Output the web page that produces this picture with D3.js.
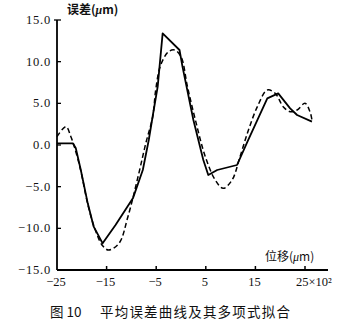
<!DOCTYPE html>
<html><head><meta charset="utf-8">
<script src="https://cdn.jsdelivr.net/npm/d3@7"></script>
<style>
html,body{margin:0;padding:0;background:#fff;}
svg{display:block;}
</style></head>
<body>
<svg id="chart" width="346" height="321"></svg>
<script>
// Data (x in units of 10^2 μm, y in μm)
const xTicks = [-25, -15, -5, 5, 15, 25];
const xTickLabels = ["−25", "−15", "−5", "5", "15", "25×10²"];
const yTicks = [15, 10, 5, 0, -5, -10, -15];
const yTickLabels = ["15.0", "10.0", "5.0", "0.0", "−5.0", "−10.0", "−15.0"];

const measuredX = [-25, -21.8, -21.2, -20.2, -18.8, -17.6, -15.8, -13.2, -9.7, -7.7, -6.5, -5.5, -4.7, -3.7, -0.3, 0.3, 2.5, 4.5, 5.5, 7.3, 11.3, 13.4, 17.4, 19.6, 22.0, 23.4, 26.4];
const measuredY = [0.2, 0.2, -0.4, -3.0, -7.0, -9.8, -11.8, -9.6, -6.4, -3.0, 0.6, 4.2, 7.0, 13.4, 11.4, 9.4, 3.0, -1.8, -3.6, -3.0, -2.4, 0.4, 5.6, 6.2, 4.4, 3.6, 2.8];

const fitX = [-25, -23.2, -22.2, -21.4, -20.2, -18.8, -17.4, -15.8, -14.6, -12.5, -10.7, -8.5, -7.1, -5.7, -5.1, -4.1, -2.5, -1.3, 0.0, 1.3, 2.9, 4.9, 6.9, 8.5, 10.3, 11.9, 13.6, 15.4, 17.4, 19.0, 20.6, 22.0, 23.4, 25.0, 26.0, 26.4];
const fitY = [1.0, 2.2, 1.0, -0.4, -3.1, -7.1, -10.0, -12.1, -12.6, -11.8, -8.6, -3.4, 0.2, 3.4, 6.6, 9.6, 11.2, 11.4, 10.6, 7.0, 3.0, -1.4, -4.2, -5.2, -4.2, -1.4, 1.8, 4.6, 6.6, 6.2, 4.6, 4.0, 4.2, 5.0, 4.0, 3.0];

const svg = d3.select("#chart");
const x = d3.scaleLinear().domain([-25, 25]).range([57, 305]);
const y = d3.scaleLinear().domain([-15, 15]).range([270, 20]);

const serif = "Liberation Serif";
const cjk = "Noto Sans CJK SC";

const g = svg.append("g");
g.append("line").attr("x1", x(-25)).attr("x2", x(-25)).attr("y1", y(15)).attr("y2", y(-15))
  .attr("stroke", "#000").attr("stroke-width", 1.8);
g.append("line").attr("x1", x(-25)).attr("x2", 328).attr("y1", y(-15)).attr("y2", y(-15))
  .attr("stroke", "#000").attr("stroke-width", 1.8);

yTicks.forEach((v, i) => {
  const yy = y(v);
  g.append("line").attr("x1", x(-25) - (v === 15 ? 3 : 0)).attr("x2", x(-25) + 4)
    .attr("y1", yy).attr("y2", yy).attr("stroke", "#000").attr("stroke-width", 1.3);
  g.append("text").attr("x", x(-25) - 6).attr("y", yy + 4)
    .attr("text-anchor", "end").attr("font-family", serif).attr("font-size", 12.5)
    .attr("letter-spacing", 0.8).attr("fill", "#111").text(yTickLabels[i]);
});

xTicks.forEach((v, i) => {
  const xx = x(v);
  if (i > 0) g.append("line").attr("x1", xx).attr("x2", xx).attr("y1", y(-15) - 4).attr("y2", y(-15) + 1)
    .attr("stroke", "#000").attr("stroke-width", 1.5);
  const t = g.append("text").attr("y", y(-15) + 16)
    .attr("font-family", serif).attr("font-size", 12.5).attr("fill", "#111").text(xTickLabels[i]);
  if (i === xTickLabels.length - 1) t.attr("x", xx - 9).attr("text-anchor", "start");
  else t.attr("x", xx - 1).attr("text-anchor", "middle");
});

g.append("text").attr("x", 67).attr("y", 14).attr("font-family", cjk).attr("font-size", 12)
  .attr("font-weight", "bold").attr("fill", "#111")
  .html('误差(<tspan font-style="italic" font-family="Liberation Serif">μ</tspan>m)');
g.append("text").attr("x", 265).attr("y", 261).attr("font-family", cjk).attr("font-size", 12)
  .attr("fill", "#111")
  .html('位移(<tspan font-style="italic" font-family="Liberation Serif">μ</tspan>m)');

const solid = d3.line().x(d => x(d[0])).y(d => y(d[1])).curve(d3.curveLinear);
const dashed = d3.line().x(d => x(d[0])).y(d => y(d[1])).curve(d3.curveCatmullRom.alpha(0.5));

svg.append("path").datum(fitX.map((v, i) => [v, fitY[i]]))
  .attr("d", dashed).attr("fill", "none").attr("stroke", "#000").attr("stroke-width", 1.5)
  .attr("stroke-dasharray", "5,3");
svg.append("path").datum(measuredX.map((v, i) => [v, measuredY[i]]))
  .attr("d", solid).attr("fill", "none").attr("stroke", "#000").attr("stroke-width", 1.8)
  .attr("stroke-linejoin", "round");

svg.append("text").attr("x", 50).attr("y", 317).attr("font-family", cjk).attr("font-size", 13.5)
  .attr("fill", "#111").text("图 10");
svg.append("text").attr("x", 100).attr("y", 317).attr("font-family", cjk).attr("font-size", 13.5)
  .attr("letter-spacing", 1.2).attr("fill", "#111").text("平均误差曲线及其多项式拟合");
</script>
</body></html>
